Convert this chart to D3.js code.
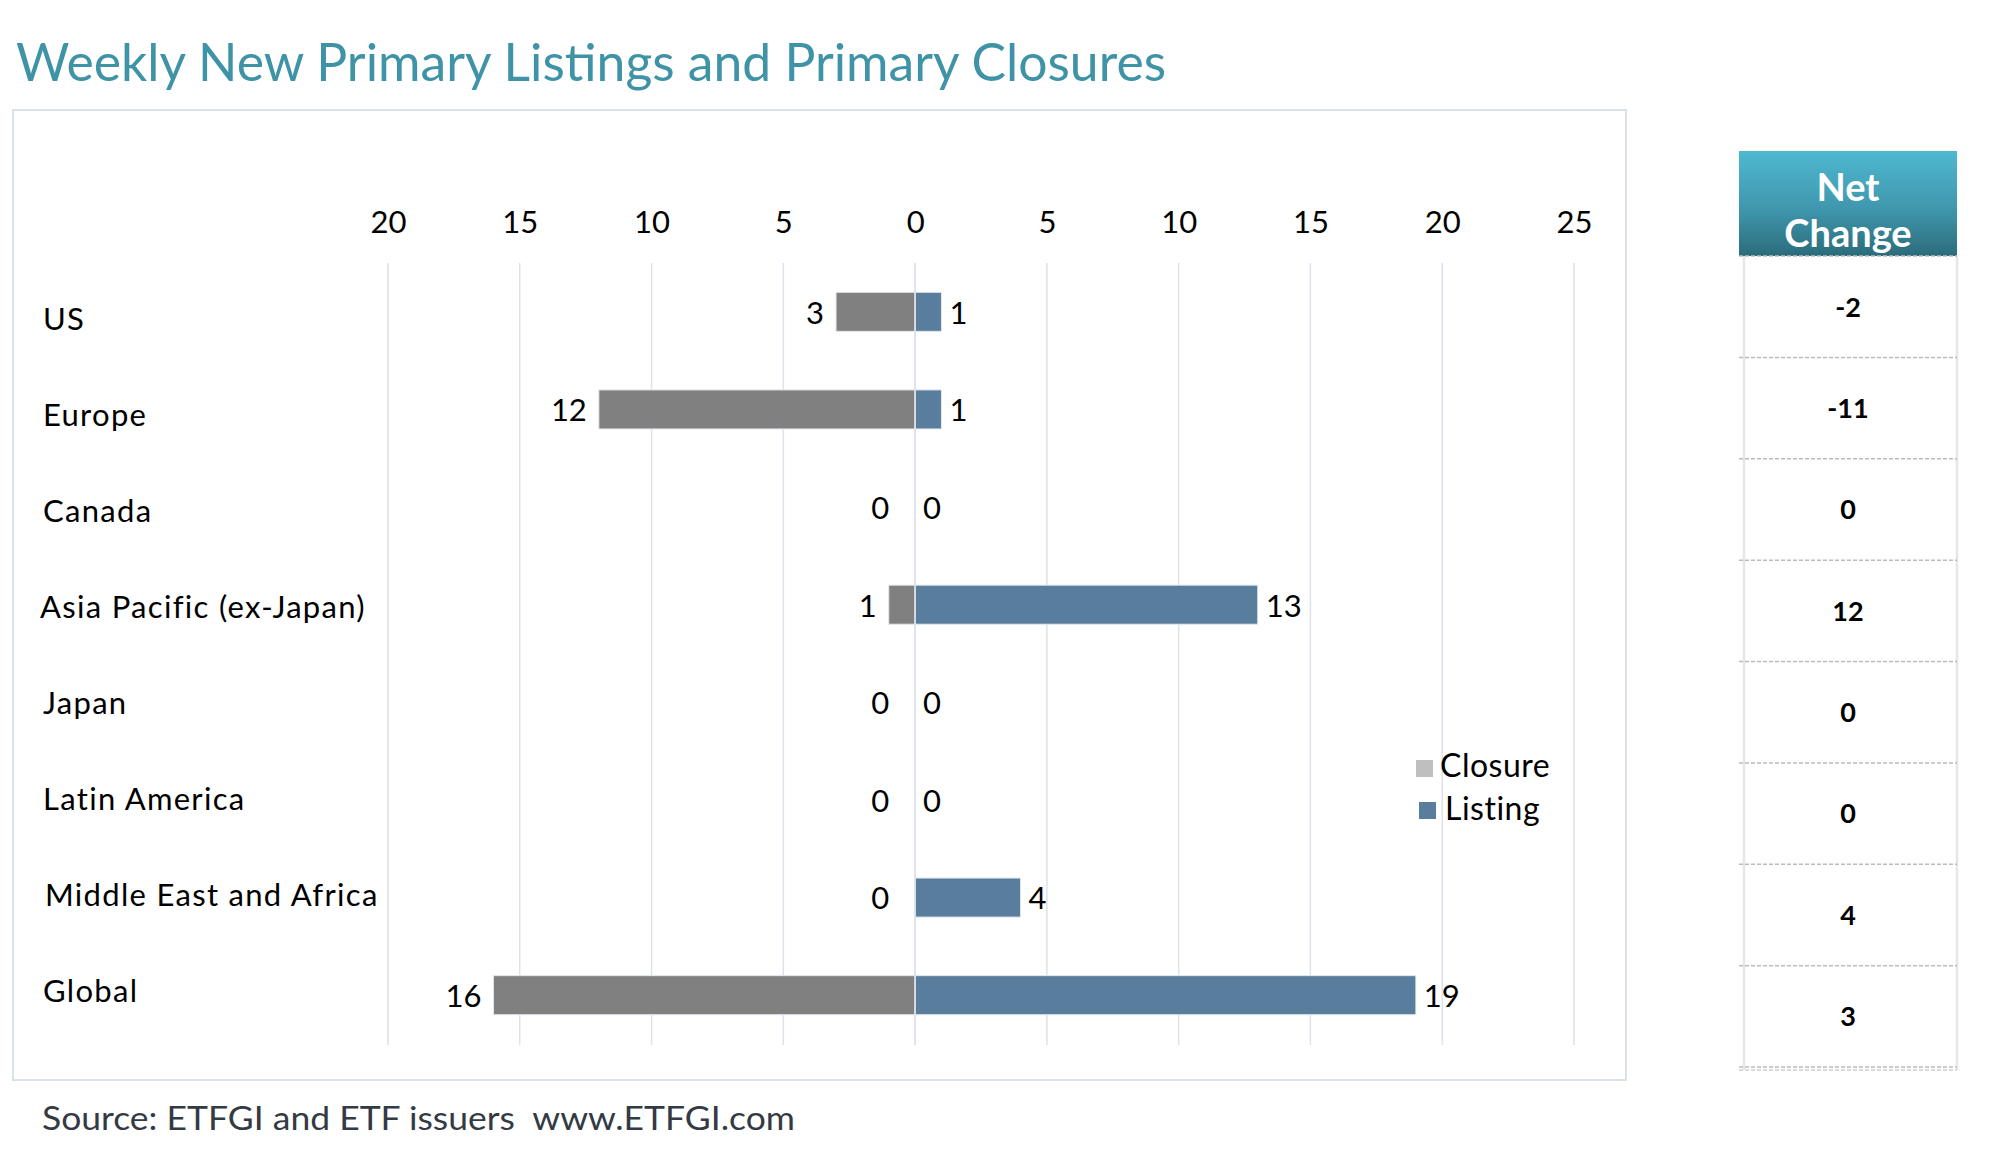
<!DOCTYPE html>
<html>
<head>
<meta charset="utf-8">
<script src="https://cdn.jsdelivr.net/npm/d3@7"></script>
<style>
  html, body { margin: 0; padding: 0; background: #fff; }
  svg { display: block; }
  text { font-family: Lato, "Open Sans", "DejaVu Sans", sans-serif; }
</style>
</head>
<body>
<svg id="chart" width="1996" height="1166"></svg>
<script>
const categories = ["US", "Europe", "Canada", "Asia Pacific (ex-Japan)", "Japan", "Latin America", "Middle East and Africa", "Global"];
const closures = [3, 12, 0, 1, 0, 0, 0, 16];
const listings = [1, 1, 0, 13, 0, 0, 4, 19];
const netChange = [-2, -11, 0, 12, 0, 0, 4, 3];
const tickValues = [-20, -15, -10, -5, 0, 5, 10, 15, 20, 25];
const seriesNames = ["Closure", "Listing"];
const titleText = "Weekly New Primary Listings and Primary Closures";
const sourceText = "Source: ETFGI and ETF issuers  www.ETFGI.com";

const svg = d3.select("#chart");

// title
svg.append("text")
  .attr("x", 16).attr("y", 81)
  .attr("font-size", 52)
  .attr("fill", "#3e93a6")
  .attr("textLength", 1150)
  .attr("lengthAdjust", "spacingAndGlyphs")
  .text(titleText);

// chart frame
svg.append("rect")
  .attr("x", 13).attr("y", 110)
  .attr("width", 1613).attr("height", 970)
  .attr("fill", "#fff")
  .attr("stroke", "#dbe1e8").attr("stroke-width", 2);

const x = d3.scaleLinear().domain([-20, 25]).range([388, 1574]);
const y = d3.scaleBand().domain(categories).range([263, 1044]).paddingInner(0.6).paddingOuter(0.3);
const yLabel = d3.scaleBand().domain(categories).range([270, 1038]);

// gridlines
svg.append("g").selectAll("line").data(tickValues).join("line")
  .attr("x1", d => x(d)).attr("x2", d => x(d))
  .attr("y1", 263).attr("y2", 1045)
  .attr("stroke", "#dde2ea").attr("stroke-width", 1.5);

// top axis labels
const axis = d3.axisTop(x).tickValues(tickValues).tickFormat(d => Math.abs(d)).tickSize(0).tickPadding(0);
const ag = svg.append("g").attr("transform", "translate(0,233)").call(axis);
ag.select(".domain").remove();
ag.selectAll("text").attr("font-size", 31).attr("fill", "#000")
  .attr("font-family", "Lato, 'Open Sans', sans-serif").attr("dy", 0);

// category labels
svg.append("g").selectAll("text").data(categories).join("text")
  .attr("x", (d, i) => i === 3 ? 40 : (i === 6 ? 45 : 43))
  .attr("y", d => yLabel(d) + yLabel.bandwidth() / 2 + 4)
  .attr("dominant-baseline", "middle")
  .attr("font-size", 31).attr("letter-spacing", 1.3).attr("fill", "#000")
  .text(d => d);

// closure bars
svg.append("g").selectAll("rect").data(categories).join("rect")
  .attr("x", (d, i) => x(-closures[i]))
  .attr("y", d => y(d))
  .attr("width", (d, i) => x(0) - x(-closures[i]))
  .attr("height", y.bandwidth())
  .attr("fill", "#808080")
  .attr("stroke", (d, i) => closures[i] > 0 ? "#e4e8ee" : "none").attr("stroke-width", 1);

// listing bars
svg.append("g").selectAll("rect").data(categories).join("rect")
  .attr("x", x(0))
  .attr("y", d => y(d))
  .attr("width", (d, i) => x(listings[i]) - x(0))
  .attr("height", y.bandwidth())
  .attr("fill", "#587d9d")
  .attr("stroke", (d, i) => listings[i] > 0 ? "#e4e8ee" : "none").attr("stroke-width", 1);

// zero line over bars
svg.append("line")
  .attr("x1", x(0)).attr("x2", x(0)).attr("y1", 263).attr("y2", 1045)
  .attr("stroke", "#dde2ea").attr("stroke-width", 1.5);

// closure value labels
svg.append("g").selectAll("text").data(categories).join("text")
  .attr("x", (d, i) => x(-closures[i]) - (closures[i] === 0 ? 26 : 12))
  .attr("y", d => y(d) + y.bandwidth() / 2 + 4)
  .attr("text-anchor", "end").attr("dominant-baseline", "middle")
  .attr("font-size", 31).attr("fill", "#000")
  .text((d, i) => closures[i]);

// listing value labels
svg.append("g").selectAll("text").data(categories).join("text")
  .attr("x", (d, i) => x(listings[i]) + (listings[i] === 0 ? 8 : 8))
  .attr("y", d => y(d) + y.bandwidth() / 2 + 4)
  .attr("text-anchor", "start").attr("dominant-baseline", "middle")
  .attr("font-size", 31).attr("fill", "#000")
  .text((d, i) => listings[i]);

// legend
const legendColors = ["#bfbfbf", "#587d9d"];
const lg = svg.append("g");
lg.selectAll("rect").data(seriesNames).join("rect")
  .attr("x", (d, i) => 1416 + i * 3).attr("y", (d, i) => 760 + i * 42)
  .attr("width", 17).attr("height", 17)
  .attr("fill", (d, i) => legendColors[i]);
lg.selectAll("text").data(seriesNames).join("text")
  .attr("x", (d, i) => 1440 + i * 5).attr("y", (d, i) => 769 + i * 43)
  .attr("dominant-baseline", "middle")
  .attr("font-size", 32).attr("letter-spacing", 0.5).attr("fill", "#000")
  .text(d => d);

// net change table
const defs = svg.append("defs");
const grad = defs.append("linearGradient").attr("id", "hdr").attr("x1", 0).attr("y1", 0).attr("x2", 0).attr("y2", 1);
grad.append("stop").attr("offset", "0%").attr("stop-color", "#4fb8d1");
grad.append("stop").attr("offset", "55%").attr("stop-color", "#3f97ad");
grad.append("stop").attr("offset", "100%").attr("stop-color", "#2c6c7b");

const tx0 = 1739, tx1 = 1957;
svg.append("rect").attr("x", tx0).attr("y", 151).attr("width", tx1 - tx0).attr("height", 105).attr("fill", "url(#hdr)");
svg.append("text").attr("x", (tx0 + tx1) / 2).attr("y", 191).attr("text-anchor", "middle").attr("dominant-baseline", "middle")
  .attr("font-size", 38).attr("font-weight", "bold").attr("fill", "#fff").text("Net");
svg.append("text").attr("x", (tx0 + tx1) / 2).attr("y", 237).attr("text-anchor", "middle").attr("dominant-baseline", "middle")
  .attr("font-size", 38).attr("font-weight", "bold").attr("fill", "#fff").text("Change");

const rowY = d3.scaleBand().domain(categories).range([256, 1067]);
// side lines
svg.append("line").attr("x1", 1744).attr("x2", 1744).attr("y1", 256).attr("y2", 1070).attr("stroke", "#e6e6e6").attr("stroke-width", 2.5);
svg.append("line").attr("x1", 1957).attr("x2", 1957).attr("y1", 256).attr("y2", 1070).attr("stroke", "#e6e6e6").attr("stroke-width", 2.5);
// dashed separators
const seps = [256].concat(categories.map(d => rowY(d) + rowY.bandwidth()));
svg.append("g").selectAll("line").data(seps).join("line")
  .attr("x1", tx0).attr("x2", tx1)
  .attr("y1", d => d).attr("y2", d => d)
  .attr("stroke", "#bcbcbc").attr("stroke-width", 1.5).attr("stroke-dasharray", "4,2");
svg.append("line").attr("x1", tx0).attr("x2", tx1).attr("y1", 1070).attr("y2", 1070)
  .attr("stroke", "#d0d0d0").attr("stroke-width", 1.5).attr("stroke-dasharray", "4,2");
svg.append("g").selectAll("text").data(categories).join("text")
  .attr("x", (tx0 + tx1) / 2)
  .attr("y", d => rowY(d) + rowY.bandwidth() / 2 + 3)
  .attr("text-anchor", "middle").attr("dominant-baseline", "middle")
  .attr("font-size", 27).attr("font-weight", "bold").attr("fill", "#000")
  .text((d, i) => netChange[i]);

// source
svg.append("text")
  .attr("x", 42).attr("y", 1130)
  .attr("font-size", 32).attr("fill", "#333a44")
  .style("white-space", "pre")
  .attr("textLength", 753).attr("lengthAdjust", "spacingAndGlyphs")
  .text(sourceText);
</script>
</body>
</html>
